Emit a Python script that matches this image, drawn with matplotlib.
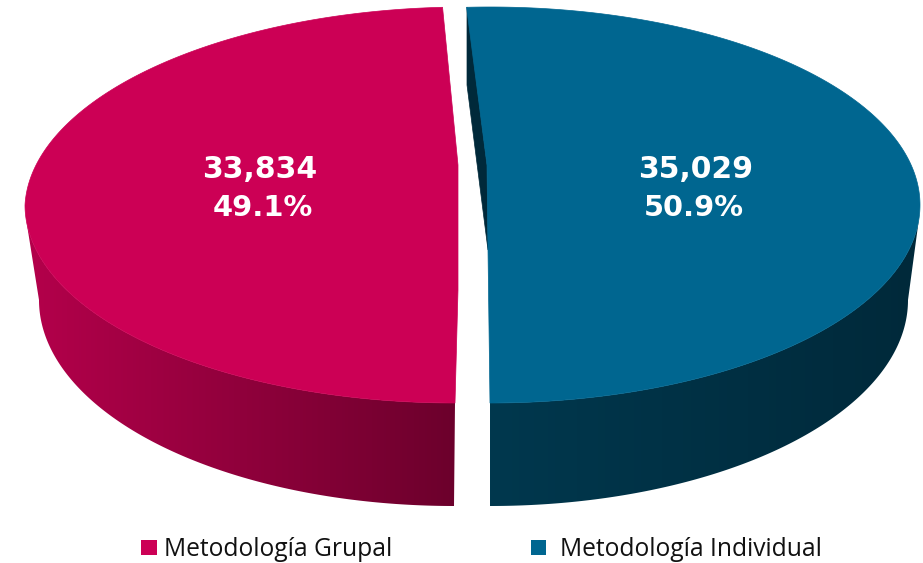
import matplotlib
matplotlib.use("Agg")
import matplotlib.pyplot as plt
import numpy as np
from matplotlib.colors import LinearSegmentedColormap
from matplotlib.patches import Polygon, Rectangle

# --- datos ---
labels = ["Metodología Grupal", "Metodología Individual"]
values = [33834, 35029]
value_text = ["33,834", "35,029"]
pct_text = ["49.1%", "50.9%"]

W, H = 923, 563
share_left = values[0] / sum(values)
share_right = values[1] / sum(values)

fig = plt.figure(figsize=(W / 100, H / 100), dpi=100)
ax = fig.add_axes([0, 0, 1, 1])

# elipse superior y elipse del fondo (con perspectiva)
RX, RY, CY = 430, 198, 205
RX_L, RX_R, RY_B, CY_B = 415, 418, 206, 300


def rim(cx, t, shear=0.0):
    t = np.radians(t)
    return cx + RX * np.cos(t) + shear * np.clip(np.sin(t), 0, 1), CY - RY * np.sin(t)


def bottom(cx, rx, t):
    t = np.radians(t)
    return cx + rx * np.cos(t), CY_B - RY_B * np.sin(t)


def draw_wall(pts, x0, x1, c0, c1):
    # costado con degradado horizontal, recortado a la forma
    cmap = LinearSegmentedColormap.from_list("wall", [c0, c1])
    im = ax.imshow(np.linspace(0, 1, 256)[None, :], cmap=cmap, aspect="auto",
                   extent=(x0, x1, H, 0), zorder=1)
    patch = Polygon(pts, closed=True, fc="none", ec="none", transform=ax.transData)
    ax.add_patch(patch)
    im.set_clip_path(patch)


# --- rebanada izquierda ---
cx_l = 455
shear_l = 11
end_l = 270
start_l = end_l - share_left * 360
rx_, ry_ = rim(cx_l, np.linspace(184, end_l, 200))
bx_, by_ = bottom(cx_l - 1, RX_L, np.linspace(end_l, 180, 200))
draw_wall(list(zip(rx_, ry_)) + list(zip(bx_, by_)), 25, 456, "#B4004B", "#6C002C")
xs, ys = rim(cx_l, np.linspace(start_l, end_l, 300), shear_l)
pts = list(zip(xs, ys)) + [(458, 290), (458, 165)]
ax.add_patch(Polygon(pts, closed=True, fc="#CC0055", ec="#CC0055", lw=0.5, zorder=2))

# --- rebanada derecha ---
cx_r = 490
start_r = 270 - 360
end_r = start_r + share_right * 360
rx_, ry_ = rim(cx_r, np.linspace(-90, -3, 200))
bx_, by_ = bottom(cx_r, RX_R, np.linspace(0, -90, 200))
draw_wall(list(zip(rx_, ry_)) + list(zip(bx_, by_)), 490, 920, "#00384E", "#00293A")
ax.add_patch(Polygon([(467, 7), (467, 85), (488, 250), (487, 165)], closed=True,
                     fc="#00293A", ec="#00293A", lw=0.5, zorder=2))
xs, ys = rim(cx_r, np.linspace(start_r, end_r, 300))
pts = list(zip(xs, ys)) + [(487, 165), (488, 250)]
ax.add_patch(Polygon(pts, closed=True, fc="#006690", ec="#006690", lw=0.5, zorder=3))

# --- textos ---
for x, xp, v, p in zip([260, 696], [263, 694], value_text, pct_text):
    ax.text(x, 170, v, color="white", fontsize=21.5, fontweight="bold",
            ha="center", va="center", family="DejaVu Sans", zorder=5)
    ax.text(xp, 208, p, color="white", fontsize=20.8, fontweight="bold",
            ha="center", va="center", family="DejaVu Sans", zorder=5)

# --- leyenda ---
ax.add_patch(Rectangle((141, 540), 16, 15, fc="#CC0055", ec="none"))
ax.add_patch(Rectangle((531, 540), 15, 15, fc="#006690", ec="none"))
ax.text(164, 549, labels[0], fontsize=17.7, color="#111111", va="center", ha="left", family="Open Sans")
ax.text(560, 549, labels[1], fontsize=17.7, color="#111111", va="center", ha="left", family="Open Sans")

ax.set_xlim(0, W)
ax.set_ylim(H, 0)
ax.axis("off")

fig.savefig("out.png", dpi=100)
